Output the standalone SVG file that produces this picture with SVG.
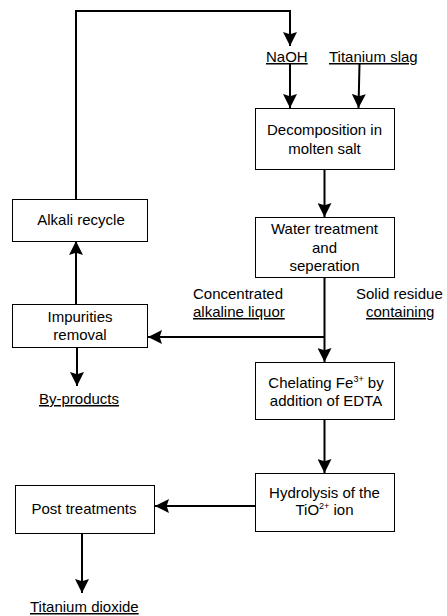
<svg xmlns="http://www.w3.org/2000/svg" width="447" height="616" viewBox="0 0 447 616">
<defs>
<style>
.box{fill:#fff;stroke:#000;stroke-width:1}
.t{font-family:"Liberation Sans",Arial,sans-serif;font-size:15px;fill:#000}
.m{text-anchor:middle}
.u{text-decoration:underline}
.c{fill:none;stroke:#000;stroke-width:2}
.sup{font-size:9px}
</style>
<marker id="ah" markerUnits="userSpaceOnUse" markerWidth="14" markerHeight="14" viewBox="0 0 12 12" refX="12" refY="6" orient="auto">
<path d="M0,0 L12,6 L0,12 L2,6 Z" fill="#000"/>
</marker>
</defs>
<rect width="447" height="616" fill="#fff"/>
<g id="connectors">
<path class="c" d="M76,199 V11 H290 V46" marker-end="url(#ah)"/>
<path class="c" d="M290,64 V108" marker-end="url(#ah)"/>
<path class="c" d="M359.5,64 L358.5,108" marker-end="url(#ah)"/>
<path class="c" d="M324.5,169 V217" marker-end="url(#ah)"/>
<path class="c" d="M324.5,277 V362" marker-end="url(#ah)"/>
<path class="c" d="M324.5,337 H148" marker-end="url(#ah)"/>
<path class="c" d="M76,304 V241" marker-end="url(#ah)"/>
<path class="c" d="M77,347 V386" marker-end="url(#ah)"/>
<path class="c" d="M324.5,419 V473" marker-end="url(#ah)"/>
<path class="c" d="M255,506 H155" marker-end="url(#ah)"/>
<path class="c" d="M82,533 V593" marker-end="url(#ah)"/>
</g>
<g id="naoh"><text class="t u" x="266" y="62">NaOH</text></g>
<g id="slag"><text class="t u" x="329" y="62">Titanium slag</text></g>
<g id="decomposition">
<rect class="box" x="255.5" y="108.5" width="139" height="61"/>
<text class="t m" x="324.5" y="135">Decomposition in</text>
<text class="t m" x="324.5" y="154">molten salt</text>
</g>
<g id="alkali">
<rect class="box" x="12.5" y="199.5" width="135" height="42"/>
<text class="t m" x="81" y="225">Alkali recycle</text>
</g>
<g id="water">
<rect class="box" x="255.5" y="217.5" width="139" height="60"/>
<text class="t m" x="324.5" y="234">Water treatment</text>
<text class="t m" x="324.5" y="252.5">and</text>
<text class="t m" x="324.5" y="271">seperation</text>
</g>
<g id="liquor-label">
<text class="t" x="193" y="299">Concentrated</text>
<text class="t u" x="193" y="317">alkaline liquor</text>
</g>
<g id="residue-label">
<text class="t" x="356" y="299">Solid residue</text>
<text class="t u" x="366" y="317">containing</text>
</g>
<g id="impurities">
<rect class="box" x="12.5" y="304.5" width="135" height="43"/>
<text class="t m" x="80" y="322">Impurities</text>
<text class="t m" x="80" y="340">removal</text>
</g>
<g id="byproducts"><text class="t u" x="39" y="404">By-products</text></g>
<g id="chelating">
<rect class="box" x="255.5" y="362.5" width="139" height="57"/>
<text class="t m" x="326" y="388">Chelating Fe<tspan class="sup" dy="-6">3+</tspan><tspan dy="6"> by</tspan></text>
<text class="t m" x="326" y="405.5">addition of EDTA</text>
</g>
<g id="hydrolysis">
<rect class="box" x="255.5" y="473.5" width="139" height="58"/>
<text class="t m" x="324.5" y="498">Hydrolysis of the</text>
<text class="t m" x="324.5" y="515">TiO<tspan class="sup" dy="-6">2+</tspan><tspan dy="6"> ion</tspan></text>
</g>
<g id="post">
<rect class="box" x="15.5" y="485.5" width="139" height="48"/>
<text class="t m" x="84" y="514">Post treatments</text>
</g>
<g id="tio2"><text class="t u" x="30" y="612">Titanium dioxide</text></g>
</svg>
